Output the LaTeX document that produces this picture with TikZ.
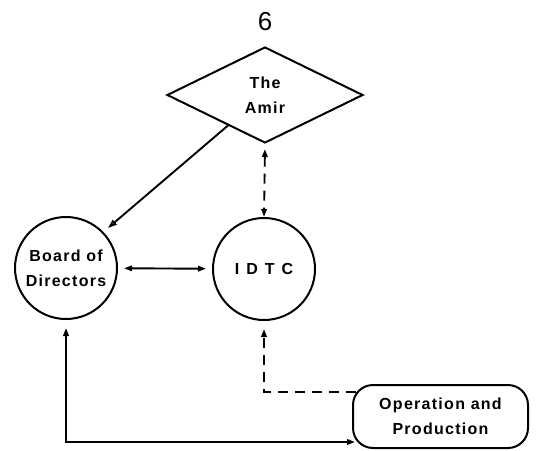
\documentclass[tikz,border=0pt]{standalone}
\usepackage{fontspec}
\setmainfont{Liberation Sans}
\newfontfamily\lblfont[LetterSpace=8]{Liberation Sans Bold}
\newfontfamily\idtcfont[LetterSpace=44]{Liberation Sans Bold}
\usetikzlibrary{shapes.geometric,arrows.meta,calc}
\begin{document}
\begin{tikzpicture}[x=1pt,y=-1pt,
  lbl/.style={font=\lblfont\fontsize{16}{25}\selectfont, align=center, inner sep=0pt},
  ln/.style={line width=1.9pt},
  shapeline/.style={draw, line width=2pt},
  dsh/.style={dash pattern=on 10pt off 7pt}
]
\useasboundingbox (0,0) rectangle (538,450);

\node[font=\fontsize{26}{30}\selectfont, inner sep=0pt] (six) at (265,22) {6};

\node[shapeline, diamond, aspect=2, inner sep=0pt, minimum width=196, minimum height=96, lbl] (amir) at (265,95) {The\\Amir};

\node[shapeline, circle, minimum size=102, inner sep=0pt, lbl] (board) at (66,268) {Board of\\Directors};

\node[shapeline, circle, minimum size=102, inner sep=0pt, lbl, font=\idtcfont\fontsize{16}{25}\selectfont] (idtc) at (264,269) {IDTC};

\node[shapeline, rectangle, rounded corners=20pt, minimum width=175, minimum height=63, lbl] (op) at (440.5,416.5) {Operation and\\Production};

\coordinate (amirout) at ($(amir.south west)!0.25!(amir.south)$);
\coordinate (opleft) at ($(op.south west)+(3,-7)$);
\coordinate (optop) at ($(op.north west)+(4,8)$);

% Amir -> Board
\draw[ln, -{Triangle[open,length=9pt,width=6pt]}, shorten >=6pt] (amirout) -- (board.44);

% Amir <-> IDTC (dashed)
\draw[ln, dsh, {Triangle[length=8pt,width=5.5pt]}-{Triangle[length=8pt,width=5.5pt]}, shorten <=5pt] (amir.south) -- (idtc.north);

% Board <-> IDTC
\draw[ln, {Triangle[open,length=8pt,width=5.5pt]}-{Triangle[open,length=8pt,width=5.5pt]}, shorten <=6pt, shorten >=6pt] (board) -- (idtc);

% Board <-> Operation
\draw[ln, {Triangle[length=8pt,width=5.5pt]}-{Triangle[open,length=8pt,width=5.5pt]}, shorten <=8pt] (board.south) |- (opleft);

% Operation -> IDTC (dashed)
\draw[ln, dsh, -{Triangle[length=8pt,width=5.5pt]}, shorten >=8pt] (optop) -| (idtc.south);
\end{tikzpicture}
\end{document}
